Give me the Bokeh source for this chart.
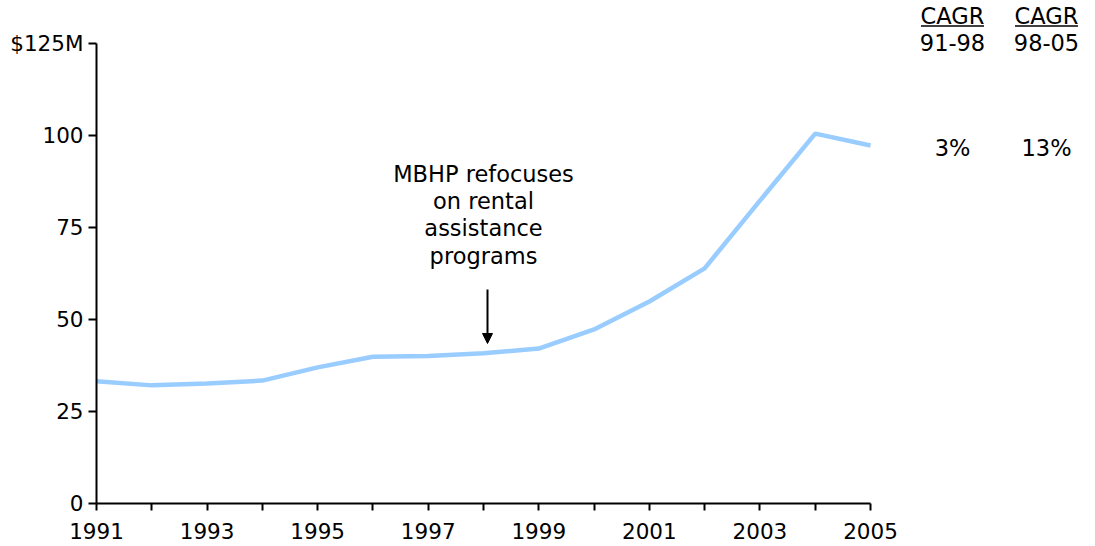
from bokeh.plotting import figure
from bokeh.models import FixedTicker, Range1d, Arrow, NormalHead
from bokeh.core.properties import value
from bokeh.embed import file_html
from bokeh.resources import INLINE

years = [1991, 1992, 1993, 1994, 1995, 1996, 1997, 1998, 1999, 2000, 2001, 2002, 2003, 2004, 2005]
revenue = [33.2, 32.1, 32.6, 33.4, 37.0, 39.9, 40.1, 40.8, 42.1, 47.3, 54.9, 63.9, 82.3, 100.5, 97.3]
y_ticks = [0, 25, 50, 75, 100, 125]
y_tick_labels = ["0", "25", "50", "75", "100", "$125M"]
x_label_years = [1991, 1993, 1995, 1997, 1999, 2001, 2003, 2005]
cagr_titles = ["CAGR", "CAGR"]
cagr_periods = ["91-98", "98-05"]
cagr_values = ["3%", "13%"]
annotation_lines = ["MBHP refocuses", "on rental", "assistance", "programs"]
annotation_year = 1998

FONT = "DejaVu Sans"
FS_TICK = "21.5px"
FS_TEXT = "22.5px"

W, H = 1095, 546
left, bottom = 96, 43
frame_w = W - left
frame_h = H - bottom
px_per_year = 774 / 14.0
px_per_unit = 460 / 125.0
x_end = 1991 + frame_w / px_per_year
y_end = frame_h / px_per_unit

p = figure(width=W, height=H, output_backend="svg", toolbar_location=None,
           x_range=Range1d(1991, x_end), y_range=Range1d(0, y_end),
           min_border_left=left, min_border_right=0, min_border_top=0,
           min_border_bottom=bottom)
p.outline_line_color = None
p.grid.visible = False
p.background_fill_color = "white"

p.line(years, revenue, line_color="#99CCFF", line_width=4.5)

# axes
xa = p.xaxis[0]
xa.bounds = (1991, 2005)
xa.ticker = FixedTicker(ticks=x_label_years, minor_ticks=[y for y in years if y not in x_label_years])
xa.axis_line_width = 2
xa.major_tick_line_width = 2
xa.minor_tick_line_width = 2
xa.major_tick_out = 7
xa.major_tick_in = 0
xa.minor_tick_out = 7
xa.minor_tick_in = 0
xa.major_label_standoff = 12
xa.major_label_text_font = FONT
xa.major_label_text_font_size = FS_TICK
xa.major_label_text_color = "black"
xa.axis_line_color = "black"
xa.major_tick_line_color = "black"
xa.minor_tick_line_color = "black"

ya = p.yaxis[0]
ya.bounds = (0, 125)
ya.ticker = FixedTicker(ticks=y_ticks)
ya.major_label_overrides = {t: l for t, l in zip(y_ticks, y_tick_labels)}
ya.axis_line_width = 2
ya.major_tick_line_width = 2
ya.major_tick_out = 8
ya.major_tick_in = 0
ya.minor_tick_line_color = None
ya.major_label_standoff = 5
ya.major_label_text_font = FONT
ya.major_label_text_font_size = FS_TICK
ya.major_label_text_color = "black"
ya.axis_line_color = "black"
ya.major_tick_line_color = "black"

def px_to_x(px_page):
    return 1991 + (px_page - 96) / px_per_year

def py_to_y(py_page):
    return (503 - py_page) / px_per_unit

# annotation text and arrow
line_centers = [173, 200, 227, 255]
p.text(x=[annotation_year] * len(annotation_lines), y=[py_to_y(c) for c in line_centers],
       text=annotation_lines, text_font=value(FONT), text_font_size=FS_TEXT,
       text_align="center", text_baseline="middle", text_color="black")
p.add_layout(Arrow(end=NormalHead(size=10, fill_color="black", line_color="black", line_width=1),
                   x_start=px_to_x(487), y_start=py_to_y(289),
                   x_end=px_to_x(487), y_end=py_to_y(343),
                   line_color="black", line_width=2))

# CAGR columns
col_x = [px_to_x(952), px_to_x(1046)]
p.text(x=col_x, y=[py_to_y(15)] * 2, text=cagr_titles,
       text_font=value(FONT), text_font_size=FS_TEXT, text_align="center",
       text_baseline="middle", text_color="black")
p.text(x=col_x, y=[py_to_y(42)] * 2, text=cagr_periods,
       text_font=value(FONT), text_font_size=FS_TEXT, text_align="center",
       text_baseline="middle", text_color="black")
p.segment(x0=[c - 31.5 / px_per_year for c in col_x], x1=[c + 31.5 / px_per_year for c in col_x],
          y0=[py_to_y(25.5)] * 2, y1=[py_to_y(25.5)] * 2, line_color="black", line_width=1.5)
p.text(x=col_x, y=[py_to_y(147)] * 2, text=cagr_values,
       text_font=value(FONT), text_font_size=FS_TEXT, text_align="center",
       text_baseline="middle", text_color="black")

open("out.html", "w").write(file_html(p, INLINE))
